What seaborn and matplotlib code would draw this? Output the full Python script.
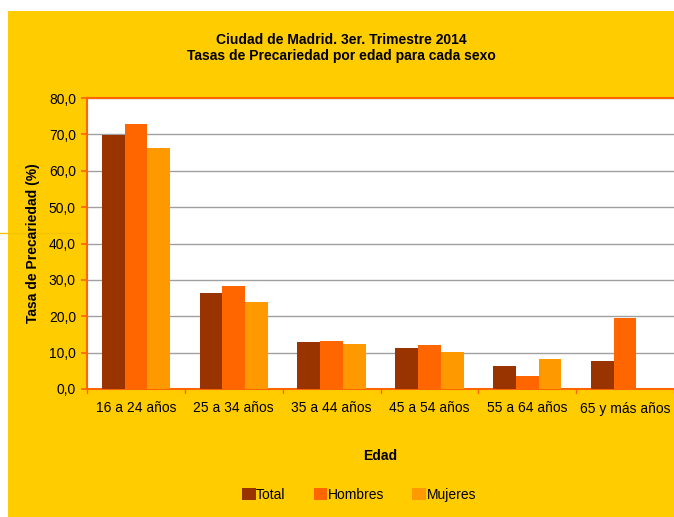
import numpy as np
import pandas as pd
import matplotlib
matplotlib.use("Agg")
import matplotlib.pyplot as plt
import seaborn as sns
from matplotlib.patches import Rectangle
from matplotlib.lines import Line2D

categories = ["16 a 24 años", "25 a 34 años", "35 a 44 años", "45 a 54 años", "55 a 64 años", "65 y más años"]
total = [69.8, 26.4, 12.9, 11.3, 6.3, 7.7]
hombres = [72.8, 28.3, 13.2, 12.1, 3.5, 19.6]
mujeres = [66.2, 23.9, 12.4, 10.1, 8.3, np.nan]
series_names = ["Total", "Hombres", "Mujeres"]
colors = ["#993300", "#FF6600", "#FF9900"]
yticks = [0, 10, 20, 30, 40, 50, 60, 70, 80]

df = pd.DataFrame({
    "Edad": categories * 3,
    "Serie": [s for s in series_names for _ in categories],
    "Valor": total + hombres + mujeres,
})

sns.set_theme(style="white")
plt.rcParams["font.family"] = ["Liberation Sans", "DejaVu Sans"]
plt.rcParams["text.color"] = "black"
plt.rcParams["axes.labelcolor"] = "black"
plt.rcParams["xtick.color"] = "black"
plt.rcParams["ytick.color"] = "black"

fig = plt.figure(figsize=(6.74, 5.17), dpi=100)
fig.patch.set_facecolor("white")
fig.patches.append(Rectangle((8/674, 0), 1, 1 - 11/517, transform=fig.transFigure,
                             facecolor="#FFCC00", edgecolor="none", zorder=-5))
fig.lines.append(Line2D([0, 80/674], [1 - 233/517, 1 - 233/517], transform=fig.transFigure,
                        color="#F5C200", lw=1, zorder=-4))

ax = fig.add_axes([87/674, 1 - 389/517, 1 - 87/674, (389 - 98)/517])
ax.set_zorder(1)
ax.set_facecolor("white")
sns.barplot(data=df, x="Edad", y="Valor", hue="Serie", order=categories,
            hue_order=series_names, palette=colors, errorbar=None,
            width=0.7, linewidth=0, saturation=1, ax=ax, zorder=3)

ax.set_ylim(0, 80)
ax.set_xlim(-0.5, len(categories) - 0.5)
ax.set_yticks(yticks)
ax.set_yticklabels([f"{v:.1f}".replace(".", ",") for v in yticks], fontsize=10)
ax.yaxis.grid(True, color="#A0A0A0", lw=1)
ax.set_axisbelow(True)
ax.set_xticks(range(len(categories)))
ax.set_xticklabels(categories, fontsize=10)
ax.tick_params(axis="x", length=0, pad=9)
ax.tick_params(axis="y", length=4, color="#FF6600", direction="out", left=True, pad=4)
for x in np.arange(-0.5, len(categories), 1):
    ax.plot([x, x], [0, -1.2], color="#FF6600", lw=1, clip_on=False, zorder=4)

for side in ["left", "bottom", "top"]:
    ax.spines[side].set_color("#FF6600")
    ax.spines[side].set_linewidth(1.5)
ax.spines["right"].set_visible(False)

ax.set_xlabel("Edad", fontsize=10, fontweight="bold", labelpad=24)
ax.set_ylabel("Tasa de Precariedad (%)", fontsize=10, fontweight="bold", labelpad=6)

fig.text(0.5 + 4/674, 1 - 40/517, "Ciudad de Madrid. 3er. Trimestre 2014", ha="center", va="center",
         fontsize=10, fontweight="bold")
fig.text(0.5 + 4/674, 1 - 56/517, "Tasas de Precariedad por edad para cada sexo", ha="center", va="center",
         fontsize=10, fontweight="bold")

handles = [Rectangle((0, 0), 1, 1, facecolor=c, edgecolor="none") for c in colors]
ax.legend_.remove()
fig.legend(handles, series_names, loc="center", bbox_to_anchor=(359/674, 1 - 495/517), ncol=3,
           frameon=False, fontsize=10, handlelength=1.0, handleheight=1.0, handletextpad=0.05,
           columnspacing=2.0)

fig.savefig("out.png", dpi=100)
